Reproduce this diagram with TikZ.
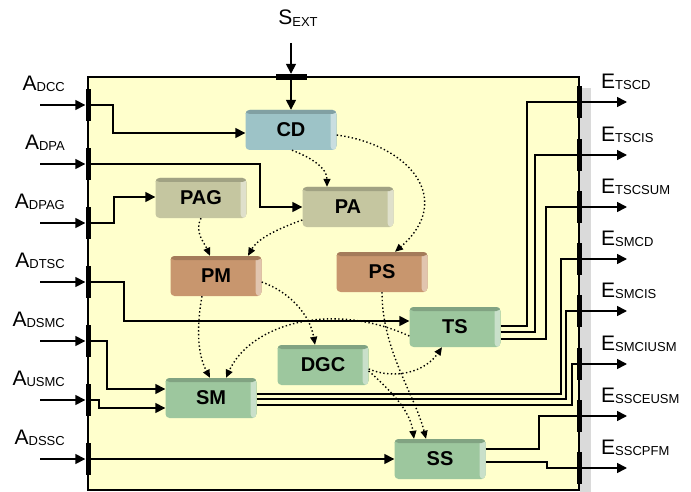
\documentclass[tikz,border=0pt]{standalone}
\usepackage{fontspec}
\setmainfont{Liberation Sans}
\usetikzlibrary{arrows.meta,positioning}
\definecolor{panelyellow}{HTML}{FFFFCC}
\definecolor{rimgray}{HTML}{DADADA}
\definecolor{cdblue}{HTML}{9DC3C7}
\definecolor{paolive}{HTML}{C5C6A0}
\definecolor{pmtan}{HTML}{C8966E}
\definecolor{smgreen}{HTML}{9DC79E}
\newcommand{\portname}[2]{#1\raisebox{-1.5pt}{\fontsize{13}{13}\selectfont #2}}

\begin{document}
\begin{tikzpicture}[
    x=1pt, y=-1pt,
    font=\fontsize{21}{21}\selectfont,
    unit/.style={
        fill=#1,
        rounded corners=4pt,
        minimum width=91pt,
        minimum height=40pt,
        inner sep=0pt,
        font=\bfseries\fontsize{20}{20}\selectfont,
        path picture={
            \fill[#1!55!white] ([xshift=-6pt]path picture bounding box.north east)
                rectangle (path picture bounding box.south east);
            \fill[#1!82!black] (path picture bounding box.north west)
                rectangle ([yshift=-4pt]path picture bounding box.north east);
        }
    },
    sig/.style={-{Triangle[length=10pt,width=10pt]}, line width=1.6pt},
    dep/.style={-{Triangle[length=8pt,width=7pt]}, line width=1.4pt,
        dash pattern=on 1.4pt off 2.4pt},
    vport/.style={fill=black, inner sep=0pt, minimum width=5pt, minimum height=32pt},
    hport/.style={fill=black, inner sep=0pt, minimum width=31pt, minimum height=6pt},
    lbl/.style={inner sep=0pt}
]
\useasboundingbox (0,0) rectangle (691,492);

% panel
\fill[rimgray] (580,88) rectangle (591,492);
\draw[line width=1.2pt, fill=panelyellow] (88,77) rectangle (579,490);

% units
\node[unit=cdblue] (CD) at (291,130) {CD};
\node[unit=paolive] (PAG) at (201,198) {PAG};
\node[unit=paolive] (PA) at (348,207) {PA};
\node[unit=pmtan] (PM) at (216,276) {PM};
\node[unit=pmtan] (PS) at (382,272) {PS};
\node[unit=smgreen] (TS) at (455,327) {TS};
\node[unit=smgreen] (DGC) at (323,365) {DGC};
\node[unit=smgreen] (SM) at (211,398) {SM};
\node[unit=smgreen] (SS) at (440,459) {SS};

% input ports
\node[hport] (pEXT) at (291,77) {};
\node[vport] (pDCC) at (88,105) {};
\node[vport] (pDPA) at (88,164) {};
\node[vport] (pDPAG) at (88,223) {};
\node[vport] (pDTSC) at (88,282) {};
\node[vport] (pDSMC) at (88,341) {};
\node[vport] (pUSMC) at (88,400) {};
\node[vport] (pDSSC) at (88,459) {};

\coordinate (inEXT) at (291,43);
\coordinate (inDCC) at (40,105);
\coordinate (inDPA) at (40,164);
\coordinate (inDPAG) at (40,223);
\coordinate (inDTSC) at (40,282);
\coordinate (inDSMC) at (40,341);
\coordinate (inUSMC) at (40,400);
\coordinate (inDSSC) at (40,459);

\node[lbl] (lEXT) at (298,18) {\portname{S}{EXT}};
\node[lbl, anchor=east] (lDCC) at (65,84) {\portname{A}{DCC}};
\node[lbl, anchor=east] (lDPA) at (65,143) {\portname{A}{DPA}};
\node[lbl, anchor=east] (lDPAG) at (65,202) {\portname{A}{DPAG}};
\node[lbl, anchor=east] (lDTSC) at (65,261) {\portname{A}{DTSC}};
\node[lbl, anchor=east] (lDSMC) at (65,320) {\portname{A}{DSMC}};
\node[lbl, anchor=east] (lUSMC) at (65,379) {\portname{A}{USMC}};
\node[lbl, anchor=east] (lDSSC) at (65,438) {\portname{A}{DSSC}};

% output ports
\node[vport] (pTSCD) at (579,102) {};
\node[vport] (pTSCIS) at (579,155) {};
\node[vport] (pTSCSUM) at (579,207) {};
\node[vport] (pSMCD) at (579,259) {};
\node[vport] (pSMCIS) at (579,311) {};
\node[vport] (pSMCIUSM) at (579,364) {};
\node[vport] (pSSCEUSM) at (579,416) {};
\node[vport] (pSSCPFM) at (579,468) {};

\coordinate (outTSCD) at (627,102);
\coordinate (outTSCIS) at (627,155);
\coordinate (outTSCSUM) at (627,207);
\coordinate (outSMCD) at (627,259);
\coordinate (outSMCIS) at (627,311);
\coordinate (outSMCIUSM) at (627,364);
\coordinate (outSSCEUSM) at (627,416);
\coordinate (outSSCPFM) at (627,468);

\node[lbl, anchor=west] (lTSCD) at (601,82) {\portname{E}{TSCD}};
\node[lbl, anchor=west] (lTSCIS) at (601,135) {\portname{E}{TSCIS}};
\node[lbl, anchor=west] (lTSCSUM) at (601,187) {\portname{E}{TSCSUM}};
\node[lbl, anchor=west] (lSMCD) at (601,239) {\portname{E}{SMCD}};
\node[lbl, anchor=west] (lSMCIS) at (601,291) {\portname{E}{SMCIS}};
\node[lbl, anchor=west] (lSMCIUSM) at (601,344) {\portname{E}{SMCIUSM}};
\node[lbl, anchor=west] (lSSCEUSM) at (601,396) {\portname{E}{SSCEUSM}};
\node[lbl, anchor=west] (lSSCPFM) at (601,448) {\portname{E}{SSCPFM}};

% inputs into the panel
\draw[sig] (inEXT) -- (pEXT.north);
\draw[sig] (inDCC) -- (pDCC.west);
\draw[sig] (inDPA) -- (pDPA.west);
\draw[sig] (inDPAG) -- (pDPAG.west);
\draw[sig] (inDTSC) -- (pDTSC.west);
\draw[sig] (inDSMC) -- (pDSMC.west);
\draw[sig] (inUSMC) -- (pUSMC.west);
\draw[sig] (inDSSC) -- (pDSSC.west);

% ports to units
\draw[sig] (pEXT.center) -- (CD.north);
\draw[sig] (pDCC.center) -- (113,105) |- ([yshift=-3pt]CD.west);
\draw[sig] (pDPA.center) -- (260,164) |- (PA.west);
\draw[sig] (pDPAG.center) -- (114,223) |- ([yshift=1pt]PAG.west);
\draw[sig] (pDTSC.center) -- (124,282) |- ([yshift=6pt]TS.west);
\draw[sig] (pDSMC.center) -- (107,341) |- ([yshift=9pt]SM.west);
\draw[sig] (pUSMC.center) -- (99,400) |- ([yshift=-10pt]SM.west);
\draw[sig] (pDSSC.center) -- (SS.west);

% units to outputs
\draw[sig] ([yshift=1pt]TS.east) -| (527,102) -- (outTSCD);
\draw[sig] ([yshift=-5pt]TS.east) -| (535,155) -- (outTSCIS);
\draw[sig] ([yshift=-12pt]TS.east) -| (546,207) -- (outTSCSUM);
\draw[sig] ([yshift=4pt]SM.east) -| (561,259) -- (outSMCD);
\draw[sig] ([yshift=-1pt]SM.east) -| (566,311) -- (outSMCIS);
\draw[sig] ([yshift=-7pt]SM.east) -| (572,364) -- (outSMCIUSM);
\draw[sig] ([yshift=10pt]SS.east) -| (539,416) -- (outSSCEUSM);
\draw[sig] ([yshift=-3pt]SS.east) -| (547,468) -- (outSSCPFM);

% dependencies
\draw[dep] ([xshift=1pt]CD.south) .. controls (312,158) and (327,168) .. ([xshift=-21pt]PA.north);
\draw[dep] ([yshift=-5pt]CD.east) .. controls (410,145) and (455,200) .. ([xshift=13pt]PS.north);
\draw[dep] (PAG.south) .. controls (194,232) and (204,242) .. ([xshift=-6pt]PM.north);
\draw[dep] ([yshift=-13pt]PA.west) .. controls (280,228) and (258,238) .. ([xshift=32pt]PM.north);
\draw[dep] ([xshift=-14pt]PM.south) .. controls (196,330) and (198,355) .. ([xshift=-1pt]SM.north);
\draw[dep] ([yshift=-6pt]PM.east) .. controls (290,292) and (310,315) .. ([xshift=-8pt]DGC.north);
\draw[dep] ([yshift=-9pt]TS.west) .. controls (330,300) and (250,325) .. ([xshift=15pt]SM.north);
\draw[dep] ([yshift=-4pt]DGC.east) .. controls (395,380) and (425,372) .. ([xshift=-13pt]TS.south);
\draw[dep] ([yshift=-6pt]DGC.east) .. controls (390,390) and (410,410) .. ([xshift=-26pt]SS.north);
\draw[dep] (PS.south) .. controls (382,350) and (415,395) .. ([xshift=-14pt]SS.north);

\end{tikzpicture}
\end{document}
